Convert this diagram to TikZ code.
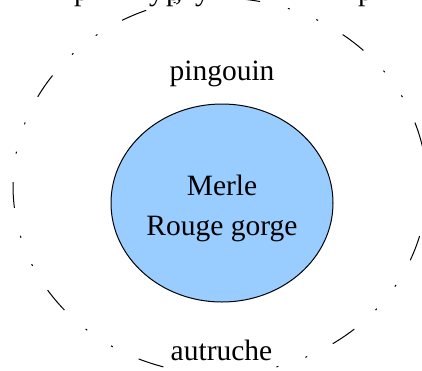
\documentclass[tikz,border=0pt]{standalone}
\usepackage{fontspec}
\setmainfont{Liberation Serif}
\usetikzlibrary{shapes.geometric}
\definecolor{fillblue}{HTML}{99CCFF}
\begin{document}
\begin{tikzpicture}[x=1pt,y=-1pt,
  lbl/.style={inner sep=0pt,font=\fontsize{29.5}{40}\selectfont},
  frag/.style={inner sep=0pt,anchor=base west,font=\fontsize{29.5}{40}\selectfont},
  outerring/.style={line width=1pt,
    dash pattern=on 26pt off 28.5pt on 2pt off 28.5pt on 2pt off 28.6pt},
  innerring/.style={ellipse,draw,line width=1pt,fill=fillblue,inner sep=0pt,
    minimum width=222,minimum height=198}]
\clip (0,0) rectangle (422,370);
\coordinate (outer) at (220,186);
\draw[outerring] ([shift={(89.3:207 and 188)}]outer)
  arc[start angle=89.3,end angle=-270.7,x radius=207,y radius=188];
\node[innerring] (inner) at (222,203) {};
\node[lbl,align=center,anchor=north] (birds) at (222,175) {Merle\\Rouge gorge};
\node[lbl,anchor=base] (pingouin) at (222,80) {pingouin};
\node[lbl,anchor=base] (autruche) at (221.5,360) {autruche};
\node[frag] (f1) at (74,0.5) {p};
\node[frag] (f2) at (149,0.5) {y};
\node[frag] (f3) at (166,0.5) {p};
\node[frag] (f4) at (175,0.5) {,};
\node[frag] (f5) at (195,0.5) {y};
\node[frag] (f6) at (358,0.5) {p};
\end{tikzpicture}
\end{document}
